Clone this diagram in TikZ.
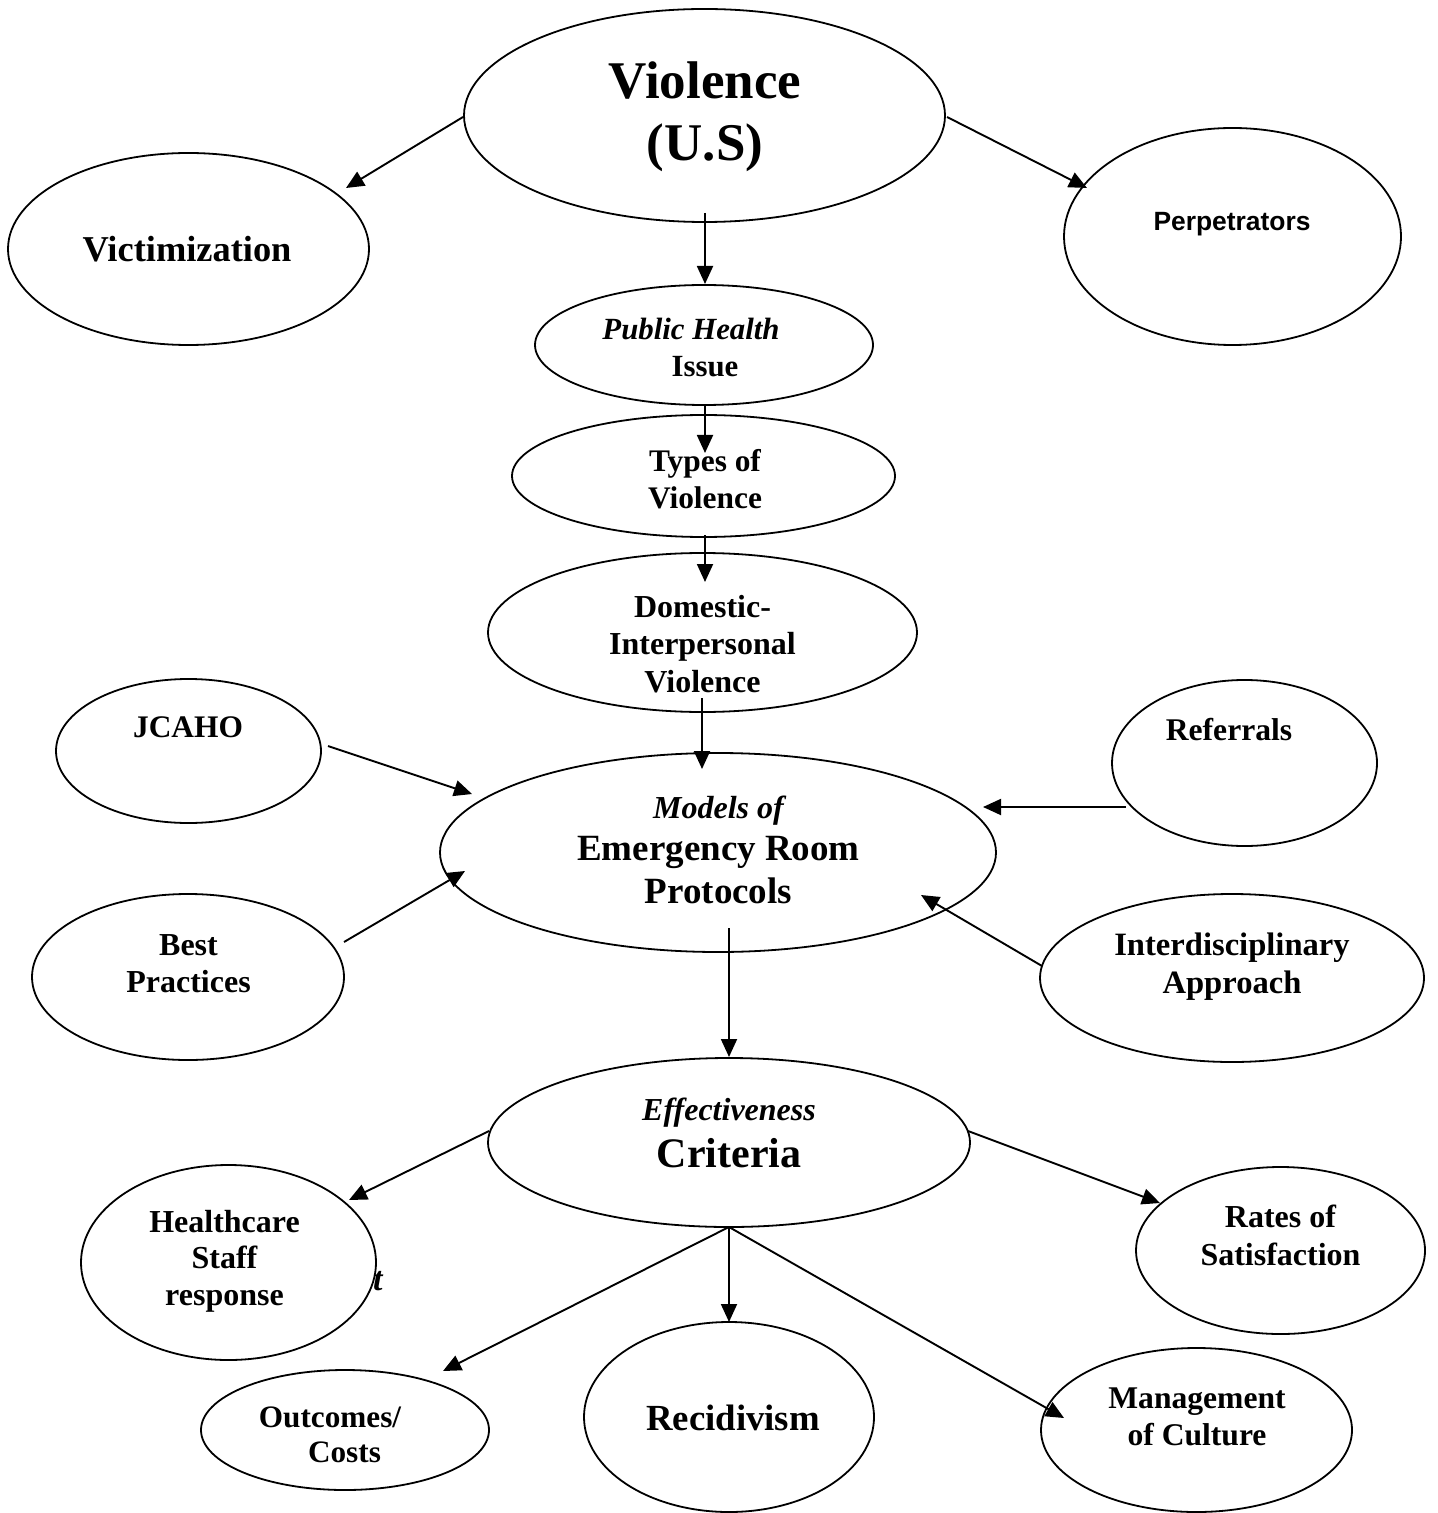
\documentclass[tikz,border=0pt]{standalone}
\usepackage{fontspec}
\setmainfont{Liberation Serif}
\newfontfamily\sansf{Liberation Sans}
\usetikzlibrary{shapes.geometric,arrows.meta,calc}
\newcommand\stk[1]{\vtop{\halign{\hfil##\hfil\cr#1\crcr}}}
\tikzset{
  ell/.style={draw, ellipse, fill=white, line width=0.9pt, inner sep=0pt, outer sep=0pt},
  lbl/.style={anchor=base, inner sep=0pt, outer sep=0pt},
  arr/.style={line width=0.95pt, -{Triangle[length=9pt,width=8pt]}},
  f16/.style={font=\fontsize{16}{18.5}\selectfont\bfseries}
}
\begin{document}
\begin{tikzpicture}[x=0.5pt,y=-0.5pt]
\useasboundingbox (0,0) rectangle (1437,1513);

% stray letter partly hidden behind the Healthcare ellipse
\node[lbl, anchor=base west, font=\fontsize{17}{18}\selectfont\bfseries\itshape] (strayT) at (373,1290) {t};

% ellipses
\node[ell, minimum width=240.5pt, minimum height=106.5pt] (viol)   at (704.5,115.5) {};
\node[ell, minimum width=180.5pt, minimum height=96pt]    (vict)   at (188.5,249) {};
\node[ell, minimum width=168.5pt, minimum height=108.5pt] (perp)   at (1232.5,236.5) {};
\node[ell, minimum width=169pt,   minimum height=60pt]    (pub)    at (704,345) {};
\node[ell, minimum width=191.5pt, minimum height=61pt]    (types)  at (703.5,476) {};
\node[ell, minimum width=214.5pt, minimum height=79.5pt]  (dom)    at (702.5,632.5) {};
\node[ell, minimum width=132.5pt, minimum height=72pt]    (jcaho)  at (188.5,751) {};
\node[ell, minimum width=278pt,   minimum height=99.5pt]  (models) at (718,852.5) {};
\node[ell, minimum width=132.5pt, minimum height=83pt]    (ref)    at (1244.5,763) {};
\node[ell, minimum width=156pt,   minimum height=83pt]    (best)   at (188,977) {};
\node[ell, minimum width=192pt,   minimum height=84pt]    (inter)  at (1232,978) {};
\node[ell, minimum width=241pt,   minimum height=84.5pt]  (eff)    at (729,1142.5) {};
\node[ell, minimum width=147.5pt, minimum height=97.5pt]  (hc)     at (228.5,1262.5) {};
\node[ell, minimum width=144.5pt, minimum height=83.5pt]  (rates)  at (1280.5,1250.5) {};
\node[ell, minimum width=144pt,   minimum height=60pt]    (out)    at (345,1430) {};
\node[ell, minimum width=145pt,   minimum height=95pt]    (recid)  at (729,1417) {};
\node[ell, minimum width=155.5pt, minimum height=82pt]    (mgmt)   at (1196.5,1430) {};

% labels
\node[lbl, font=\fontsize{26.5}{31}\selectfont\bfseries] (violT) at (705,99) {\stk{Violence\cr(U.S)}};
\node[lbl, font=\fontsize{18.2}{21}\selectfont\bfseries] (victT) at (187,262) {Victimization};
\node[lbl, font=\fontsize{13.2}{15}\selectfont\sansf\bfseries] (perpT) at (1232,231) {Perpetrators};
\node[lbl, font=\fontsize{15.4}{18.5}\selectfont\bfseries] (pubT) at (691,340) {\stk{{\itshape Public Health}\cr\hspace{14pt}Issue}};
\node[lbl, font=\fontsize{15.7}{18}\selectfont\bfseries] (typesT) at (705,472) {\stk{Types of\cr Violence}};
\node[lbl, font=\fontsize{16}{18.75}\selectfont\bfseries] (domT) at (702.5,617) {\stk{Domestic-\cr Interpersonal\cr Violence}};
\node[lbl, font=\fontsize{15.7}{18}\selectfont\bfseries] (jcahoT) at (188,737) {JCAHO};
\node[lbl, font=\fontsize{18.5}{21.25}\selectfont\bfseries] (modelsT) at (718.5,818) {\stk{{\fontsize{16}{18}\selectfont\itshape Models of}\cr Emergency Room\cr Protocols}};
\node[lbl, font=\fontsize{15.8}{18}\selectfont\bfseries] (refT) at (1229,740) {Referrals};
\node[lbl, f16] (bestT) at (188.5,955) {\stk{Best\cr Practices}};
\node[lbl, font=\fontsize{16.3}{19}\selectfont\bfseries] (interT) at (1232,955) {\stk{Interdisciplinary\cr Approach}};
\node[lbl, font=\fontsize{21}{23.5}\selectfont\bfseries] (effT) at (729,1120) {\stk{{\fontsize{16}{18}\selectfont\itshape Effectiveness}\cr Criteria}};
\node[lbl, font=\fontsize{16}{18.25}\selectfont\bfseries] (hcT) at (224.5,1232) {\stk{Healthcare\cr Staff\cr response}};
\node[lbl, font=\fontsize{16}{19}\selectfont\bfseries] (ratesT) at (1280.5,1227) {\stk{Rates of\cr Satisfaction}};
\node[lbl, font=\fontsize{15.6}{17.5}\selectfont\bfseries] (outT) at (330,1427) {\stk{Outcomes/\cr\hspace{14.5pt}Costs}};
\node[lbl, font=\fontsize{18.4}{21}\selectfont\bfseries] (recidT) at (733,1430) {Recidivism};
\node[lbl, font=\fontsize{15.8}{18.5}\selectfont\bfseries] (mgmtT) at (1197,1408) {\stk{Management\cr of Culture}};

% connectors
\draw[arr] ($(viol.center)+(-241.5,1.5)$) -- ($(vict.center)+(157.5,-61)$);
\draw[arr] ($(viol.center)+(242.5,1.5)$) -- ($(perp.center)+(-145.5,-48.5)$);
\draw[arr] ($(viol.center)+(0.5,97.5)$) -- ($(pub.center)+(1,-61)$);
\draw[arr] ($(pub.center)+(1,60)$) -- ($(types.center)+(1.5,-23)$);
\draw[arr] ($(types.center)+(1.5,59)$) -- ($(dom.center)+(2.5,-50.5)$);
\draw[arr] ($(dom.center)+(-0.5,65.5)$) -- ($(models.center)+(-16,-83.5)$);
\draw[arr] ($(jcaho.center)+(139.5,-5)$) -- ($(models.center)+(-246,-58.5)$);
\draw[arr] ($(best.center)+(156,-35)$) -- ($(models.center)+(-253,18.5)$);
\draw[arr] ($(ref.center)+(-118.5,44)$) -- ($(models.center)+(265,-45.5)$);
\draw[arr] ($(inter.center)+(-190,-12)$) -- ($(models.center)+(203,42.5)$);
\draw[arr] ($(models.center)+(11,75.5)$) -- ($(eff.center)+(0,-85.5)$);
\draw[arr] ($(eff.center)+(-240,-11.5)$) -- ($(hc.center)+(120.5,-62.5)$);
\draw[arr] ($(eff.center)+(239,-11.5)$) -- ($(rates.center)+(-120.5,-47.5)$);
\draw[arr] (eff.south) -- ($(out.center)+(98,-59)$);
\draw[arr] (eff.south) -- ($(recid.center)+(0,-95)$);
\draw[arr] (eff.south) -- ($(mgmt.center)+(-132.5,-12)$);
\end{tikzpicture}
\end{document}
